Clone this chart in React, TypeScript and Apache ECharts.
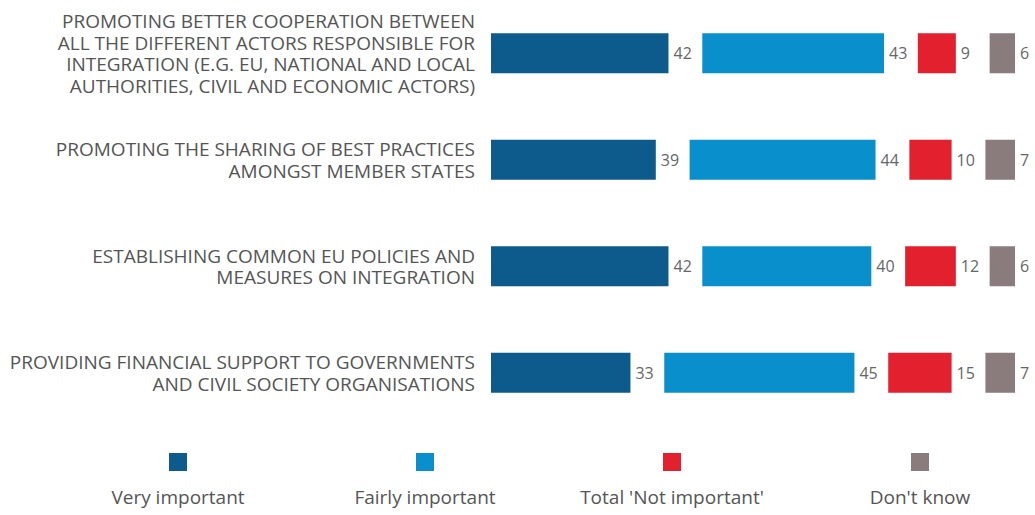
import React, { useEffect, useRef } from "react";
import * as echarts from "echarts";

const categories = [
  "PROMOTING BETTER COOPERATION BETWEEN\nALL THE DIFFERENT ACTORS RESPONSIBLE FOR\nINTEGRATION (E.G. EU, NATIONAL AND LOCAL\nAUTHORITIES, CIVIL AND ECONOMIC ACTORS)",
  "PROMOTING THE SHARING OF BEST PRACTICES\nAMONGST MEMBER STATES",
  "ESTABLISHING COMMON EU POLICIES AND\nMEASURES ON INTEGRATION",
  "PROVIDING FINANCIAL SUPPORT TO GOVERNMENTS\nAND CIVIL SOCIETY ORGANISATIONS",
];
const veryImportant = [42, 39, 42, 33];
const fairlyImportant = [43, 44, 40, 45];
const notImportant = [9, 10, 12, 15];
const dontKnow = [6, 7, 6, 7];
const gap = [8, 8, 8, 8];

const seriesNames = ["Very important", "Fairly important", "Total 'Not important'", "Don't know"];
const colors = ["#0d5b8d", "#0a8fcd", "#e2202e", "#8a7b7d"];
const legendCenters = [178, 425, 672, 920];

const FONT = "'Open Sans', 'Noto Sans', sans-serif";

export default function App() {
  const ref = useRef<HTMLDivElement>(null);
  useEffect(() => {
    if (!ref.current) return;
    const chart = echarts.init(ref.current, null, { renderer: "svg" });
    const values = [veryImportant, fairlyImportant, notImportant, dontKnow];
    const series: any[] = [];
    values.forEach((v, i) => {
      series.push({
        name: seriesNames[i],
        type: "bar",
        stack: "total",
        barWidth: 40,
        data: v,
        itemStyle: { color: colors[i] },
        label: {
          show: true,
          position: "right",
          distance: 5,
          color: "#666",
          fontSize: 16,
          fontFamily: FONT,
        },
      });
      if (i < 3) {
        series.push({
          name: "gap" + i,
          type: "bar",
          stack: "total",
          data: gap,
          itemStyle: { color: "transparent" },
          silent: true,
        });
      }
    });
    const legends = seriesNames.map((n, i) => ({
      data: [n],
      left: legendCenters[i] - 9,
      top: 453,
      itemWidth: 18,
      itemHeight: 18,
      icon: "rect",
      formatter: () => "",
      itemGap: 0,
      padding: 0,
      selectedMode: false,
    }));
    chart.setOption({
      animation: false,
      backgroundColor: "#fff",
      grid: { left: 491, right: 20, top: 0, bottom: 89, containLabel: false },
      xAxis: { type: "value", min: 0, max: 124, show: false },
      yAxis: {
        type: "category",
        data: categories,
        inverse: true,
        axisLine: { show: false },
        axisTick: { show: false },
        splitLine: { show: false },
        axisLabel: {
          color: "#555",
          fontSize: 19,
          lineHeight: 21.5,
          fontFamily: FONT,
          align: "right",
          margin: 16,
        },
      },
      legend: legends,
      graphic: seriesNames.map((n, i) => ({
        type: "text",
        x: legendCenters[i],
        y: 497,
        style: {
          text: n,
          fill: "#555",
          font: `19px ${FONT}`,
          textAlign: "center",
          textVerticalAlign: "middle",
        },
      })),
      series,
    });
    return () => chart.dispose();
  }, []);
  return (
    <div
      ref={ref}
      style={{ position: "absolute", left: 0, top: 0, width: 1035, height: 515 }}
    />
  );
}
